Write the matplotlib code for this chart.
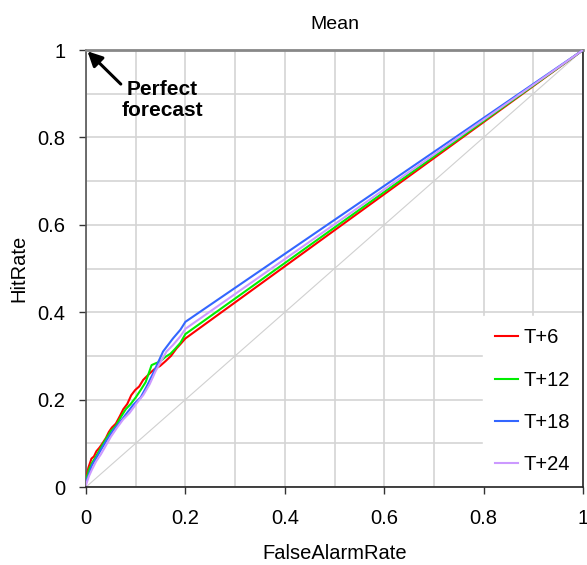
import matplotlib
matplotlib.use('Agg')
import matplotlib.pyplot as plt

plt.rcParams['font.family'] = ['Liberation Sans', 'DejaVu Sans']

# ROC points (false alarm rate, hit rate)
red_x = [0, 0.005, 0.011, 0.016, 0.021, 0.027, 0.032, 0.04, 0.046, 0.052, 0.06, 0.068, 0.075,
         0.083, 0.091, 0.099, 0.107, 0.115, 0.122, 0.13, 0.138, 0.149, 0.16, 0.171, 0.182, 0.19, 0.2, 1.0]
red_y = [0.02, 0.045, 0.065, 0.07, 0.082, 0.09, 0.098, 0.112, 0.126, 0.136, 0.145, 0.162, 0.178,
         0.19, 0.21, 0.222, 0.23, 0.245, 0.253, 0.262, 0.27, 0.277, 0.288, 0.3, 0.317, 0.327, 0.34, 1.0]

green_x = [0, 0.006, 0.012, 0.02, 0.03, 0.04, 0.05, 0.06, 0.07, 0.08, 0.09, 0.1, 0.11, 0.12,
           0.132, 0.14, 0.149, 0.16, 0.17, 0.18, 0.19, 0.2, 1.0]
green_y = [0.015, 0.04, 0.055, 0.07, 0.09, 0.11, 0.128, 0.14, 0.16, 0.178, 0.19, 0.205, 0.222, 0.24,
           0.279, 0.283, 0.287, 0.298, 0.305, 0.317, 0.33, 0.35, 1.0]

blue_x = [0, 0.006, 0.012, 0.02, 0.03, 0.042, 0.055, 0.068, 0.082, 0.095, 0.11, 0.122, 0.135,
          0.145, 0.155, 0.165, 0.175, 0.19, 0.2, 1.0]
blue_y = [0.01, 0.03, 0.05, 0.065, 0.085, 0.108, 0.13, 0.148, 0.169, 0.188, 0.205, 0.23, 0.26,
          0.285, 0.31, 0.325, 0.34, 0.36, 0.378, 1.0]

purple_x = [0, 0.006, 0.012, 0.02, 0.03, 0.04, 0.05, 0.062, 0.075, 0.088, 0.102, 0.115, 0.128,
            0.14, 0.152, 0.162, 0.175, 0.19, 0.2, 1.0]
purple_y = [0.005, 0.025, 0.04, 0.058, 0.075, 0.095, 0.115, 0.135, 0.155, 0.17, 0.192, 0.21, 0.235,
            0.265, 0.29, 0.31, 0.325, 0.345, 0.362, 1.0]

labels = ['T+6', 'T+12', 'T+18', 'T+24']
colors = ['#ff0000', '#00ee00', '#3366ff', '#cc99ff']
series = [(red_x, red_y), (green_x, green_y), (blue_x, blue_y), (purple_x, purple_y)]

fig = plt.figure(figsize=(5.87, 5.65), dpi=100)
ax = fig.add_axes([0.1465, 0.138, 0.8467, 0.7735])

# no-skill diagonal
ax.plot([0, 1], [0, 1], color='#d0d0d0', lw=0.8, zorder=2)

for (x, y), c, lab in zip(series, colors, labels):
    ax.plot(x, y, color=c, lw=1.5, label=lab, zorder=3)

ticks = [0, 0.2, 0.4, 0.6, 0.8, 1]
tick_labels = ['0', '0.2', '0.4', '0.6', '0.8', '1']
ax.set_xlim(0, 1)
ax.set_ylim(0, 1)
ax.set_xticks(ticks)
ax.set_yticks(ticks)
ax.set_xticklabels(tick_labels)
ax.set_yticklabels(tick_labels)
ax.set_xticks([i / 10 for i in range(11)], minor=True)
ax.set_yticks([i / 10 for i in range(11)], minor=True)
ax.grid(True, which='both', color='#d4d4d4', lw=1.2, zorder=0)
ax.set_axisbelow(True)
ax.tick_params(axis='both', which='major', direction='out', length=5, width=1,
               labelsize=14.5, colors='#333333', labelcolor='black')
ax.tick_params(axis='x', which='major', pad=11)
ax.tick_params(axis='y', which='major', pad=10)
ax.tick_params(which='minor', length=0)

for side, col, w in [('top', '#888888', 2), ('left', '#555555', 1.2),
                     ('bottom', '#222222', 1.2), ('right', '#222222', 1.2)]:
    ax.spines[side].set_color(col)
    ax.spines[side].set_linewidth(w)

ax.set_xlabel('FalseAlarmRate', fontsize=14.5, labelpad=11.5)
ax.set_ylabel('HitRate', fontsize=14.5, labelpad=6)
ax.set_title('Mean', fontsize=14, pad=15)

# arrow to the perfect-forecast corner
ax.annotate('', xy=(0.003, 0.997), xytext=(0.07, 0.922),
            arrowprops=dict(arrowstyle='-|>', color='black', lw=2.2, mutation_scale=22,
                            shrinkA=0, shrinkB=0))
ax.text(0.153, 0.886, 'Perfect\nforecast', ha='center', va='center',
        fontsize=15, fontweight='bold', linespacing=1.15)

leg = ax.legend(loc='lower right', fontsize=14.5, frameon=True, fancybox=False,
                framealpha=1, edgecolor='white', facecolor='white', labelspacing=1.15,
                handlelength=1.15, handletextpad=0.25, borderpad=0.6, borderaxespad=0.05)
leg.set_zorder(2.4)

fig.savefig('out.png', dpi=100)
